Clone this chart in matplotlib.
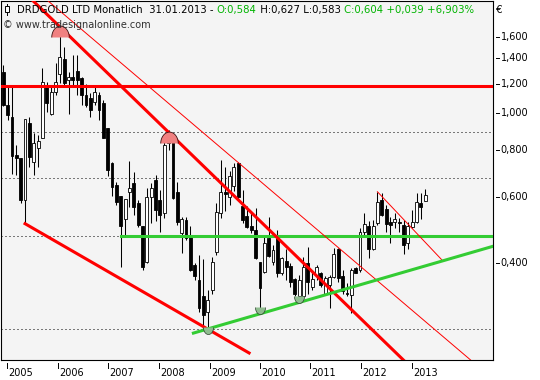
import numpy as np
import matplotlib
matplotlib.use('Agg')
import matplotlib.pyplot as plt
import matplotlib.transforms as mtrans
from matplotlib.path import Path
from matplotlib.markers import MarkerStyle

# Monatskerzen DRDGOLD, Dez 2004 .. Jan 2013 (Werte in EUR)
opens = [1.29, 1.05, 0.98, 0.775, 0.76, 0.587, 0.944, 0.74, 0.807, 0.858,
         1.177, 0.994, 1.14, 1.27, 1.395, 1.23, 1.25, 1.296, 1.242, 1.119,
         1.10, 1.074, 1.119, 1.065, 0.912, 0.737, 0.644, 0.603, 0.523, 0.618,
         0.652, 0.575, 0.50, 0.402, 0.60, 0.664, 0.587, 0.542, 0.832, 0.849,
         0.618, 0.479, 0.52, 0.47, 0.394, 0.36, 0.326, 0.295, 0.338, 0.428,
         0.542, 0.618, 0.60, 0.64, 0.736, 0.565, 0.533, 0.50, 0.49, 0.402,
         0.378, 0.464, 0.402, 0.464, 0.375, 0.405, 0.392, 0.361, 0.325, 0.326,
         0.40, 0.344, 0.371, 0.375, 0.33, 0.348, 0.366, 0.435, 0.369, 0.333,
         0.328, 0.386, 0.382, 0.484, 0.501, 0.435, 0.509, 0.587, 0.555, 0.514,
         0.514, 0.513, 0.504, 0.45, 0.497, 0.514, 0.576, 0.584]
highs = [1.345, 1.18, 1.18, 0.823, 0.76, 0.966, 0.98, 0.886, 0.875, 1.32,
         1.214, 1.177, 1.36, 1.69, 1.505, 1.29, 1.43, 1.43, 1.25, 1.20,
         1.13, 1.19, 1.14, 1.085, 0.913, 0.743, 0.656, 0.603, 0.59, 0.745,
         0.699, 0.587, 0.50, 0.632, 0.652, 0.685, 0.625, 0.84, 0.905, 0.87,
         0.658, 0.53, 0.53, 0.50, 0.40, 0.419, 0.41, 0.338, 0.415, 0.575,
         0.751, 0.72, 0.70, 0.735, 0.74, 0.625, 0.565, 0.55, 0.56, 0.402,
         0.469, 0.53, 0.446, 0.489, 0.415, 0.434, 0.40, 0.363, 0.37, 0.415,
         0.44, 0.378, 0.394, 0.378, 0.368, 0.37, 0.437, 0.437, 0.382, 0.352,
         0.387, 0.39, 0.495, 0.543, 0.518, 0.52, 0.618, 0.612, 0.57, 0.53,
         0.543, 0.526, 0.52, 0.514, 0.553, 0.614, 0.612, 0.627]
lows = [1.045, 0.96, 0.69, 0.685, 0.577, 0.51, 0.72, 0.685, 0.72, 0.858,
        1.01, 0.99, 1.12, 1.205, 1.19, 0.994, 1.18, 1.12, 1.05, 1.04,
        0.977, 1.05, 0.96, 0.86, 0.68, 0.602, 0.57, 0.39, 0.469, 0.564,
        0.536, 0.497, 0.382, 0.40, 0.51, 0.515, 0.484, 0.525, 0.80, 0.59,
        0.504, 0.424, 0.46, 0.38, 0.36, 0.296, 0.267, 0.262, 0.33, 0.42,
        0.525, 0.55, 0.57, 0.62, 0.59, 0.51, 0.494, 0.48, 0.41, 0.296,
        0.375, 0.415, 0.394, 0.367, 0.37, 0.36, 0.345, 0.325, 0.315, 0.32,
        0.33, 0.338, 0.36, 0.345, 0.328, 0.302, 0.363, 0.355, 0.331, 0.325,
        0.293, 0.375, 0.377, 0.47, 0.411, 0.432, 0.504, 0.533, 0.484, 0.45,
        0.495, 0.484, 0.422, 0.434, 0.494, 0.511, 0.522, 0.583]
closes = [1.05, 0.99, 0.77, 0.76, 0.587, 0.966, 0.766, 0.835, 0.845, 1.214,
          1.063, 1.14, 1.214, 1.41, 1.205, 1.25, 1.227, 1.227, 1.119, 1.052,
          1.02, 1.14, 1.02, 0.86, 0.706, 0.636, 0.58, 0.50, 0.59, 0.632,
          0.564, 0.504, 0.39, 0.60, 0.632, 0.553, 0.536, 0.823, 0.893, 0.594,
          0.514, 0.523, 0.465, 0.382, 0.369, 0.302, 0.29, 0.318, 0.402, 0.547,
          0.618, 0.61, 0.68, 0.72, 0.60, 0.52, 0.497, 0.49, 0.411, 0.342,
          0.452, 0.417, 0.431, 0.376, 0.411, 0.389, 0.355, 0.331, 0.36, 0.39,
          0.355, 0.361, 0.39, 0.348, 0.365, 0.367, 0.422, 0.363, 0.337, 0.331,
          0.382, 0.376, 0.484, 0.507, 0.435, 0.501, 0.581, 0.536, 0.507, 0.504,
          0.522, 0.51, 0.446, 0.50, 0.514, 0.581, 0.564, 0.604]

years = ['2005', '2006', '2007', '2008', '2009', '2010', '2011', '2012', '2013']
year_pos = [0.78, 12.5, 24.0, 35.8, 47.4, 58.9, 70.5, 82.2, 93.9]
price_ticks = [0.4, 0.6, 0.8, 1.0, 1.2, 1.4, 1.6]
price_labels = ['0,400', '0,600', '0,800', '1,000', '1,200', '1,400', '1,600']

# Linien (Index der Kerze, Kurs)
res_level = 1.184
sup_level = 0.471
dotted_levels = [0.890, 0.671, 0.471, 0.267]
trend_main = [(13, 1.70), (38, 0.89)]
trend_upper = [(13, 1.874), (85, 0.366)]
trend_low = [(5, 0.508), (56.5, 0.2298)]
trend_short = [(86, 0.618), (100.8, 0.407)]
trend_green = [(43.7, 0.2596), (112.5, 0.442)]
sup_start = 27
tops = [(13, 1.594), (38, 0.835)]
bottoms = [(47, 0.270), (59, 0.305), (68, 0.325)]

RED = '#ff0000'
GREEN = '#33cc33'
TXT_GREEN = '#00b400'

plt.rcParams['font.family'] = 'DejaVu Sans'
plt.rcParams['font.size'] = 7

fig = plt.figure(figsize=(5.4, 3.8), dpi=100, facecolor='white')
ax = fig.add_axes([1/540, 20/380, 491.7/540, 359/380])
ax.set_facecolor('#f4f4f4')
ax.set_yscale('log')
ax.set_xlim(-0.53, 112.5)
ax.set_ylim(0.2201, 1.992)
ax.xaxis.set_major_locator(matplotlib.ticker.NullLocator())
ax.yaxis.set_major_locator(matplotlib.ticker.NullLocator())
ax.yaxis.set_minor_locator(matplotlib.ticker.NullLocator())
for s in ax.spines.values():
    s.set_linewidth(0.8); s.set_color('black')

# gepunktete Horizontalen
for lv in dotted_levels:
    ax.axhline(lv, color='black', lw=0.72, dashes=(1, 3), zorder=1)

# Kerzen
x = np.arange(len(closes))
o, h, l, c = map(np.array, (opens, highs, lows, closes))
up = c >= o
ax.vlines(x, l, h, color='black', lw=0.75, zorder=2)
ax.bar(x, np.abs(c - o), bottom=np.minimum(o, c), width=0.66,
       color=np.where(up, 'white', 'black'), edgecolor='black', linewidth=0.6, zorder=3)

# Trendlinien
ax.axhline(res_level, color=RED, lw=2.2, zorder=4)
ax.plot([sup_start, 112.5], [sup_level, sup_level], color=GREEN, lw=2.2, zorder=4)
ax.axline(*trend_main, color=RED, lw=2.2, zorder=4)
ax.axline(*trend_upper, color=RED, lw=0.7, zorder=4)
ax.plot(*zip(*trend_low), color=RED, lw=2.2, zorder=4)
ax.plot(*zip(*trend_short), color=RED, lw=0.7, zorder=4)
ax.plot(*zip(*trend_green), color=GREEN, lw=2.2, zorder=4)

# Halbkreise an Hoch- und Tiefpunkten
t = np.linspace(0, np.pi, 30)
top_path = Path(np.column_stack([np.cos(t), 1.3 * np.sin(t)]), closed=False)
bot_path = Path(np.column_stack([np.cos(t), -1.4 * np.sin(t)]), closed=False)
ax.plot(*zip(*tops), ls='none', marker=MarkerStyle(top_path), ms=16.4,
        mfc='#f08080', mec='#3a1010', mew=0.6, zorder=5)
ax.plot(*zip(*bottoms), ls='none', marker=MarkerStyle(bot_path), ms=10.1,
        mfc='#8fbc8f', mec='#2a402a', mew=0.5, zorder=5)

# rechte Preisachse
yt = mtrans.blended_transform_factory(ax.transAxes, ax.transData)
for p, lab in zip(price_ticks, price_labels):
    ax.plot([1.0065, 1.012], [p, p], color='black', lw=0.7, transform=yt, clip_on=False)
    ax.text(1.0165, p, lab, transform=yt, ha='left', va='center', color='black')
ax.text(1.0075, 0.975, '€', transform=ax.transAxes, ha='left', va='center', fontsize=7.5)

# Jahresachse
xt = mtrans.blended_transform_factory(ax.transData, ax.transAxes)
for xp, lab in zip(year_pos, years):
    ax.plot([xp, xp], [-0.0085, -0.0225], color='black', lw=0.7, transform=xt, clip_on=False)
    ax.text(xp + 0.35, -0.036, lab, transform=xt, ha='left', va='center', color='black')

# Titelzeile
ax.plot([0.0115, 0.0115], [0.962, 0.991], color='black', lw=0.7, transform=ax.transAxes, clip_on=False, zorder=6)
ax.add_patch(plt.Rectangle((0.0075, 0.968), 0.008, 0.017, transform=ax.transAxes,
                           facecolor='white', edgecolor='black', lw=0.7, zorder=7))
parts = [('DRDGOLD LTD Monatlich  31.01.2013 - ', 'black'), ('O:0,584', TXT_GREEN),
         (' H:0,627 L:0,583 ', 'black'), ('C:0,604 +0,039 +6,903%', TXT_GREEN)]
tx = ax.text(0.0325, 0.976, parts[0][0], transform=ax.transAxes, ha='left', va='center',
             color=parts[0][1], fontsize=7.3, zorder=8)
for txt, col in parts[1:]:
    tx = ax.annotate(txt, xy=(1, 0), xycoords=tx, ha='left', va='bottom', color=col,
                     fontsize=7.3, zorder=8)
ax.text(0.004, 0.933, '© www.tradesignalonline.com', transform=ax.transAxes,
        ha='left', va='center', color='#303030', zorder=8)

fig.savefig('out.png', dpi=100, facecolor='white')
